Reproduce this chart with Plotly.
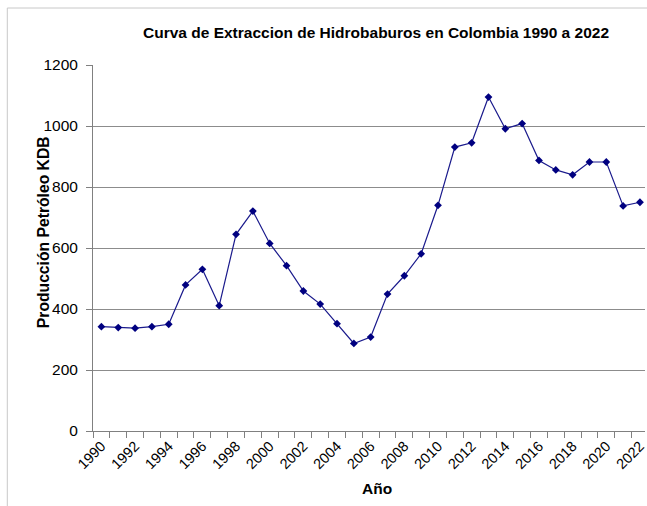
import plotly.graph_objects as go

years = list(range(1990, 2023))
produccion = [342, 339, 337, 342, 350, 479, 530, 411, 645, 721, 615, 542,
              459, 416, 352, 287, 308, 449, 509, 581, 740, 931, 945, 1095,
              991, 1008, 887, 856, 840, 882, 882, 738, 750]
tick_years = list(range(1990, 2023, 2))
y_ticks = [0, 200, 400, 600, 800, 1000, 1200]

title = "Curva de Extraccion de Hidrobaburos en Colombia 1990 a 2022"
x_title = "Año"
y_title = "Producción Petróleo KDB"

FONT = "Liberation Sans, Arial, sans-serif"
W, H = 647, 506
L, R, T, B = 93, 0, 65, 75
pw = W - L - R
ph = H - T - B

fig = go.Figure()
fig.add_trace(go.Scatter(
    x=years, y=produccion, mode="lines+markers",
    line=dict(color="#1a1a8c", width=1.2),
    marker=dict(symbol="diamond", size=6, color="#000080"),
    showlegend=False,
))

fig.update_layout(
    width=W, height=H,
    margin=dict(l=L, r=R, t=T, b=B, pad=0),
    paper_bgcolor="white", plot_bgcolor="white",
    font=dict(family=FONT, color="#000000"),
    xaxis=dict(
        range=[1989.5, 2022.3],
        tickvals=tick_years, ticktext=[str(v) for v in tick_years],
        tickangle=-45, tickfont=dict(size=14.5, family=FONT),
        ticklabeloverflow="allow",
        ticks="", showgrid=False, zeroline=False,
        showline=True, linecolor="#808080", linewidth=1,
        minor=dict(ticks="outside", tick0=1989.5, dtick=1, ticklen=6,
                   tickcolor="#808080", showgrid=False),
    ),
    yaxis=dict(
        range=[0, 1200], tickvals=y_ticks,
        tickfont=dict(size=15.5, family=FONT),
        ticks="outside", ticklen=6, tickcolor="#808080",
        ticklabelstandoff=5,
        showgrid=True, gridcolor="#8c8c8c", gridwidth=1,
        zeroline=False, showline=True, linecolor="#808080", linewidth=1,
    ),
    annotations=[
        dict(text="<b>" + title + "</b>", xref="paper", yref="paper",
             x=(377 - L) / pw, y=1 + (T - 33) / ph, showarrow=False,
             font=dict(size=15.5, family=FONT), xanchor="center", yanchor="middle"),
        dict(text="<b>" + x_title + "</b>", xref="paper", yref="paper",
             x=(378 - L) / pw, y=-(488 - T - ph) / ph, showarrow=False,
             font=dict(size=15.5, family=FONT), xanchor="center", yanchor="middle"),
        dict(text="<b>" + y_title + "</b>", xref="paper", yref="paper",
             x=(44 - L) / pw, y=1 - (232 - T) / ph, showarrow=False, textangle=-90,
             font=dict(size=15.7, family=FONT), xanchor="center", yanchor="middle"),
    ],
    shapes=[
        dict(type="line", xref="paper", yref="paper",
             x0=(7 - L) / pw, x1=(W + 5 - L) / pw,
             y0=1 + (T - 8) / ph, y1=1 + (T - 8) / ph,
             line=dict(color="#c8c8c8", width=1)),
        dict(type="line", xref="paper", yref="paper",
             x0=(7 - L) / pw, x1=(7 - L) / pw,
             y0=1 + (T - 8) / ph, y1=-(H + 5 - T - ph) / ph,
             line=dict(color="#c8c8c8", width=1)),
    ],
)

fig.write_html("out.html",
               config={"displayModeBar": False},
               post_script="document.body.style.margin='0px';document.body.style.overflow='hidden';")
